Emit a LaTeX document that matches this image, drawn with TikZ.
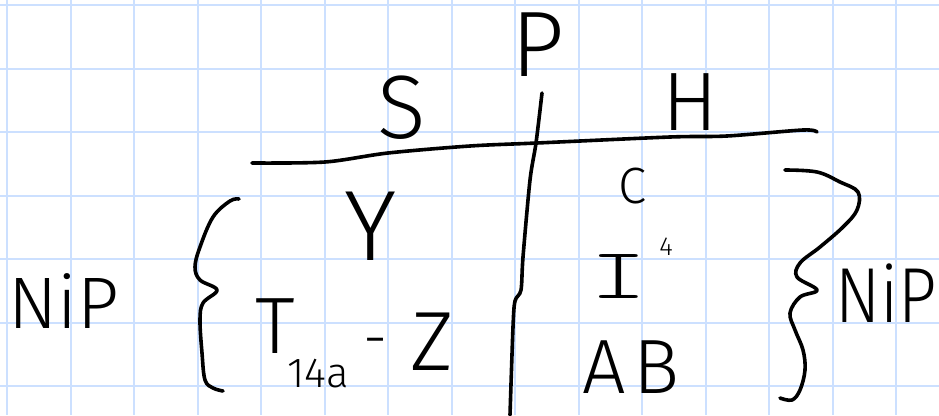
\documentclass[tikz,border=0pt]{standalone}
\usepackage{fontspec}
\setsansfont{Fira Sans}[UprightFont={* Light}]
\newfontfamily\barfont{Latin Modern Mono Light}
\renewcommand{\familydefault}{\sfdefault}
\newcommand{\hwsize}[1]{\fontsize{#1}{#1}\selectfont}
\definecolor{gridblue}{RGB}{204,224,255}
\tikzset{
  gridline/.style={draw=gridblue, line width=2pt},
  ink/.style={draw=black, line width=3.6pt, line cap=round, line join=round},
  lbl/.style={inner sep=0pt, outer sep=0pt, anchor=base, text=black},
}
\begin{document}
\begin{tikzpicture}[x=1pt,y=-1pt]
\useasboundingbox (0,0) rectangle (939,415);
\fill[white] (0,0) rectangle (939,415);
% grid paper
\foreach \i in {0,...,14} \draw[gridline] ({7.3+63.5*\i},0) -- ({7.3+63.5*\i},415);
\foreach \j in {0,...,6} \draw[gridline] (0,{5+63.5*\j}) -- (939,{5+63.5*\j});
% main horizontal stroke
\draw[ink] plot[smooth, tension=0.5] coordinates {(252,163) (325,162) (388,153) (470,146) (537,143) (670,137) (727,136) (803,130) (817,132)};
% vertical stroke under P
\draw[ink] plot[smooth, tension=0.5] coordinates {(542,93) (536,143) (530,180) (523,257) (521,290) (515,301) (513,327) (510,415)};
% left brace
\draw[ink] plot[smooth, tension=0.6] coordinates {(239,199) (230,201) (213,217) (200,247) (195,267) (200,280) (217,290) (203,303) (200,320) (202,353) (205,380) (213,388) (223,391)};
% right brace
\draw[ink] plot[smooth, tension=0.6] coordinates {(785,170) (817,172) (840,182) (858,192) (857,210) (843,227) (820,247) (800,263) (797,277) (817,290) (800,297) (790,313) (795,330) (803,350) (805,370) (800,390) (792,400) (780,398)};
% labels
\node[lbl] (p) at (538,76) {\hwsize{93}P};
\node[lbl] (s) at (402,138) {\hwsize{90}S};
\node[lbl] (h) at (690,130) {\hwsize{83}H};
\node[lbl] (y) at (371,260) {\hwsize{100}Y};
\node[lbl] (t) at (275,353) {\hwsize{80}T};
\node[lbl] (tsub) at (318,387) {\hwsize{42}14a};
\node[lbl] (dash) at (376,358) {\hwsize{60}-};
\node[lbl] (z) at (432,370) {\hwsize{84}Z};
\node[lbl] (c) at (633,203) {\hwsize{51}C};
\node[lbl] (i) at (619,298) {\scalebox{1.5}[1]{\barfont\hwsize{72}I}};
\node[lbl] (isup) at (666,255) {\hwsize{26}4};
\node[lbl] (ab) at (631,393) {\hwsize{77}A\hspace{8pt}B};
\node[lbl] (nipl) at (64,328) {\hwsize{73}NiP};
\node[lbl, anchor=base west] (nipr) at (835,322) {\scalebox{0.86}[1]{\hwsize{78}NiP}};
\end{tikzpicture}
\end{document}
